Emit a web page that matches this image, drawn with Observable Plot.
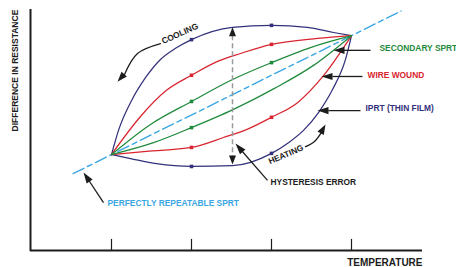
<!DOCTYPE html>
<html><head><meta charset="utf-8">
<script src="https://cdn.jsdelivr.net/npm/d3@7"></script>
<script src="https://cdn.jsdelivr.net/npm/@observablehq/plot@0.6"></script>
<style>html,body{margin:0;padding:0;background:#fff;} svg{display:block;}</style>
</head><body><div id="chart"></div>
<script>
// ---- data (temperature in tick units, resistance difference in arbitrary units) ----
const temperatureTicks = [1, 2, 3, 4];

const idealX = [0.52, 4.62];
const idealY = [1.94, 6.04];

const iprtCoolingX = [1.0, 1.0875, 1.25, 1.425, 1.6125, 1.8, 2.0, 2.5125, 3.0, 3.45, 3.775, 4.0];
const iprtCoolingY = [2.42, 3.03, 3.78, 4.36, 4.82, 5.10, 5.32, 5.63, 5.68, 5.63, 5.50, 5.42];
const iprtHeatingX = [1.0, 1.2375, 1.5625, 2.0, 2.5125, 3.0, 3.2125, 3.4, 3.5875, 3.7625, 3.925, 4.0];
const iprtHeatingY = [2.42, 2.32, 2.19, 2.12, 2.14, 2.45, 2.72, 3.03, 3.48, 4.06, 4.82, 5.42];

const wireCoolingX = [1.0, 1.3625, 1.6875, 2.0, 2.325, 2.6125, 3.0, 3.575, 4.0];
const wireCoolingY = [2.42, 3.38, 4.04, 4.42, 4.77, 4.97, 5.20, 5.35, 5.42];
const wireHeatingX = [1.0, 1.4375, 2.0, 2.4, 2.6875, 3.0, 3.325, 3.65, 4.0];
const wireHeatingY = [2.42, 2.50, 2.60, 2.85, 3.05, 3.36, 3.73, 4.41, 5.42];

const secCoolingX = [1.0, 1.4875, 2.0, 2.4875, 3.0, 3.4875, 4.0];
const secCoolingY = [2.42, 3.18, 3.76, 4.29, 4.74, 5.12, 5.42];
const secHeatingX = [1.0, 1.525, 2.0, 2.525, 3.0375, 3.525, 4.0];
const secHeatingY = [2.42, 2.72, 3.10, 3.56, 4.09, 4.67, 5.42];

const markerX = [2, 3, 2, 3, 2, 3, 2, 3, 2, 3, 2];
const markerY = [5.32, 5.68, 2.12, 2.45, 4.42, 5.20, 2.60, 3.36, 3.76, 4.74, 3.10];
const markerSeries = ["iprt", "iprt", "iprt", "iprt", "wire", "wire", "wire", "wire", "sec", "sec", "sec"];

// annotation anchor points (data units)
const labelText = ["SECONDARY SPRT", "WIRE WOUND", "IPRT (THIN FILM)", "HYSTERESIS ERROR", "PERFECTLY REPEATABLE SPRT"];
const labelX = [4.35, 4.2, 4.175, 2.9875, 0.95];
const labelY = [5.10, 4.415, 3.58, 1.72, 1.19];
const labelSeries = ["sec", "wire", "iprt", "note", "ideal"];

const pointerFromX = [4.2375, 4.1375, 4.1125, 2.95, 0.9];
const pointerFromY = [5.05, 4.39, 3.53, 1.77, 1.21];
const pointerToX = [3.90, 3.76, 3.71, 2.63, 0.72];
const pointerToY = [5.05, 4.39, 3.53, 2.51, 1.76];
const headX = [3.775, 3.625, 3.575, 2.55, 0.65];
const headY = [5.05, 4.39, 3.53, 2.70, 1.97];
const headAngle = [270, 270, 270, 319, 326];

const coolArrowX = [1.6125, 1.325, 1.1625];
const coolArrowY = [5.22, 4.97, 4.44];
const heatArrowX = [3.425, 3.5375, 3.625];
const heatArrowY = [2.62, 2.75, 2.98];
const curvedHeadX = [1.075, 3.675];
const curvedHeadY = [4.26, 3.18];
const curvedHeadAngle = [222, 29];

const hysteresisX = 2.5125;
const hysteresisTop = 5.63, hysteresisBottom = 2.17;

// ---- styling ----
const NAVY = "#33317a", RED = "#d8252f", GREEN = "#1f8a3c", BLUE = "#3aa6e2", INK = "#1c1c1c";
const colorOf = {iprt: NAVY, wire: RED, sec: GREEN, ideal: BLUE, note: INK};
const FONT = "'Liberation Sans', Arial, Helvetica, sans-serif";

const rows = (xs, ys) => xs.map((x, i) => ({x, y: ys[i]}));
const curves = [
  [iprtCoolingX, iprtCoolingY, NAVY], [iprtHeatingX, iprtHeatingY, NAVY],
  [wireCoolingX, wireCoolingY, RED], [wireHeatingX, wireHeatingY, RED],
  [secCoolingX, secCoolingY, GREEN], [secHeatingX, secHeatingY, GREEN]
];
const markers = markerX.map((x, i) => ({x, y: markerY[i], s: markerSeries[i]}));
const labels = labelText.map((t, i) => ({t, x: labelX[i], y: labelY[i], s: labelSeries[i]}));
const pointers = pointerFromX.map((x, i) => ({x1: x, y1: pointerFromY[i], x2: pointerToX[i], y2: pointerToY[i]}));
const heads = headX.map((x, i) => ({x, y: headY[i], a: headAngle[i]}));
const curvedHeads = curvedHeadX.map((x, i) => ({x, y: curvedHeadY[i], a: curvedHeadAngle[i]}));
const vHeads = [{x: hysteresisX, y: hysteresisTop, a: 0}, {x: hysteresisX, y: hysteresisBottom, a: 180}];

const xMin = -0.0125, xMax = 4.8875, yMax = 6.08;

const marks = [
  // axes
  Plot.ruleY([0], {x1: xMin, x2: xMax, stroke: INK, strokeWidth: 2}),
  Plot.ruleX([xMin], {y1: -0.025, y2: yMax, stroke: INK, strokeWidth: 2}),
  Plot.ruleX(temperatureTicks, {y1: 0, y2: 0.28, stroke: INK, strokeWidth: 1.2}),
  // ideal line
  Plot.line(rows(idealX, idealY), {x: "x", y: "y", stroke: BLUE, strokeWidth: 1.4, strokeDasharray: "12,4,5,4"}),
  // curves
  ...curves.map(([xs, ys, c]) => Plot.line(rows(xs, ys), {x: "x", y: "y", curve: "monotone-x", stroke: c, strokeWidth: 1.25})),
  Plot.dot(markers, {x: "x", y: "y", symbol: "square", r: 2, fill: d => colorOf[d.s], stroke: "none"}),
  // hysteresis dashed double arrow
  Plot.link([0], {x1: hysteresisX, x2: hysteresisX, y1: hysteresisTop - 0.2, y2: hysteresisBottom + 0.2, stroke: "#9a9a9a", strokeWidth: 1.5, strokeDasharray: "5,3"}),
  Plot.vector(vHeads, {x: "x", y: "y", rotate: "a", length: 9, r: 3.5, shape: "spike", anchor: "end", fill: INK, stroke: "none"}),
  // pointers
  Plot.link(pointers, {x1: "x1", y1: "y1", x2: "x2", y2: "y2", stroke: INK, strokeWidth: 1.3}),
  Plot.vector(heads, {x: "x", y: "y", rotate: "a", length: 11, r: 3.6, shape: "spike", anchor: "end", fill: INK, stroke: "none"}),
  Plot.line(rows(coolArrowX, coolArrowY), {x: "x", y: "y", curve: "natural", stroke: INK, strokeWidth: 1.3}),
  Plot.line(rows(heatArrowX, heatArrowY), {x: "x", y: "y", curve: "natural", stroke: INK, strokeWidth: 1.3}),
  Plot.vector(curvedHeads, {x: "x", y: "y", rotate: "a", length: 10, r: 3.6, shape: "spike", anchor: "end", fill: INK, stroke: "none"}),
  // labels
  Plot.text(labels, {x: "x", y: "y", text: "t", fill: d => colorOf[d.s], textAnchor: "start", lineAnchor: "middle", fontSize: 8.4, fontWeight: "bold", fontFamily: FONT}),
  Plot.text(["COOLING"], {x: 1.855, y: 5.47, text: d => d, rotate: -24, fill: INK, fontSize: 8.4, fontWeight: "bold", fontFamily: FONT, lineAnchor: "middle"}),
  Plot.text(["HEATING"], {x: 3.18, y: 2.42, text: d => d, rotate: -23, fill: INK, fontSize: 8.4, fontWeight: "bold", fontFamily: FONT, lineAnchor: "middle"}),
  Plot.text(["DIFFERENCE IN RESISTANCE"], {x: -0.2, y: 4.54, text: d => d, rotate: -90, fill: INK, fontSize: 8.5, fontWeight: "bold", fontFamily: FONT, lineAnchor: "middle"}),
  Plot.text(["TEMPERATURE"], {x: xMax, y: -0.30, text: d => d, textAnchor: "end", fill: INK, fontSize: 10, fontWeight: "bold", fontFamily: FONT, lineAnchor: "middle"})
];

const chart = Plot.plot({
  width: 456,
  height: 267,
  marginTop: 9, marginBottom: 17, marginLeft: 30, marginRight: 34,
  x: {domain: [xMin, xMax], range: [30, 422], axis: null},
  y: {domain: [0, yMax], range: [250, 9], axis: null},
  style: {fontFamily: FONT, background: "#fff", overflow: "visible"},
  marks
});
document.getElementById("chart").appendChild(chart);
</script>
</body></html>
